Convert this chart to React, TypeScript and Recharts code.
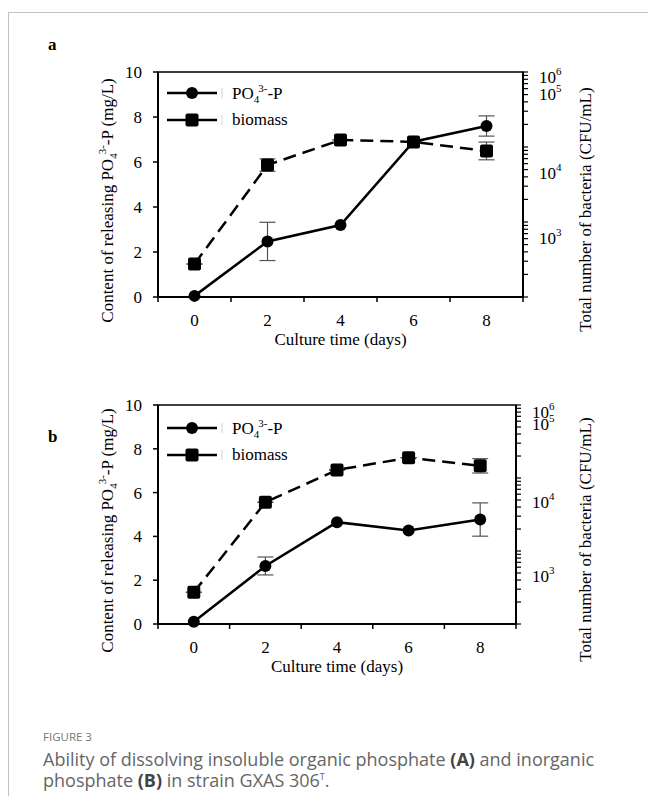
import React from 'react';
import { ComposedChart, Line, XAxis, YAxis, ErrorBar, Label, ReferenceArea } from 'recharts';

// ---------- data ----------
const days = [0, 2, 4, 6, 8];
const xTicks = [-1, 0, 1, 2, 3, 4, 5, 6, 7, 8, 9]; // odd = tick marks, even = labelled days
const leftTicks = [0, 2, 4, 6, 8, 10];
const rightMinorTicks = [
  100, 200, 300, 400, 500, 600, 700, 800, 900,
  1000, 2000, 3000, 4000, 5000, 6000, 7000, 8000, 9000,
  10000, 20000, 30000, 40000, 50000, 60000, 70000, 80000, 90000, 100000,
];
const rightLabelExponents = ['3', '4', '5', '6'];

// panel a (organic phosphate)
const poA = [0.05, 2.47, 3.2, 6.9, 7.6];
const poErrA = [0, 0.85, 0, 0, 0.45];
const bioA = [275, 5750, 12400, 11700, 8850];
const bioErrA = [[0, 0], [1000, 1200], [0, 0], [0, 0], [2100, 2800]];
const labelPosA = [606, 4460, 50900, 84500];

// panel b (inorganic phosphate)
const poB = [0.1, 2.65, 4.65, 4.27, 4.77];
const poErrB = [0, 0.41, 0, 0, 0.76];
const bioB = [272, 4650, 12900, 18970, 14700];
const bioErrB = [[0, 0], [0, 0], [0, 0], [0, 0], [3000, 3700]];
const labelPosB = [454, 4730, 55000, 79400];

const serif = '"Liberation Serif", "Times New Roman", Times, serif';
const sans = '"Open Sans", "Noto Sans", Arial, sans-serif';

const makeRows = (po: number[], poErr: number[], bio: number[], bioErr: number[][]) =>
  days.map((d, i) => ({ day: d, po: po[i], poErr: poErr[i], bio: bio[i], bioErr: bioErr[i] }));

const XTick = (props: any) => {
  const { x, y, payload } = props;
  const v = payload.value;
  if (Math.abs(v % 2) === 1) {
    return <line x1={x} x2={x} y1={y} y2={y + 5} stroke="#000" strokeWidth={1.5} />;
  }
  return (
    <text x={x} y={y + 29} textAnchor="middle" fontFamily={serif} fontSize={17} fill="#000">
      {v}
    </text>
  );
};

const makeRightTick = (labelPos: number[]) => (props: any) => {
  const { x, y, payload } = props;
  const idx = labelPos.indexOf(payload.value);
  if (idx >= 0) {
    return (
      <text x={x + 16} y={y + 6} fontFamily={serif} fontSize={17} fill="#000">
        10
        <tspan dy={-8} fontSize={11}>
          {rightLabelExponents[idx]}
        </tspan>
      </text>
    );
  }
  return <line x1={x} x2={x + 5} y1={y} y2={y} stroke="#000" strokeWidth={1.2} />;
};

const LeftTitle = (props: any) => {
  const vb = props.viewBox;
  const cx = vb.x + 9;
  const cy = vb.y + vb.height / 2 + 16;
  return (
    <text
      x={cx}
      y={cy}
      dy={6}
      transform={`rotate(-90, ${cx}, ${cy})`}
      textAnchor="middle"
      fontFamily={serif}
      fontSize={17}
      fill="#000"
    >
      Content of releasing PO
      <tspan dy={4} fontSize={11}>4</tspan>
      <tspan dy={-11} dx={-1} fontSize={11}>3-</tspan>
      <tspan dy={7}>-P (mg/L)</tspan>
    </text>
  );
};

const makeRightTitle = (dx: number) => (props: any) => {
  const vb = props.viewBox;
  const cx = vb.x + dx;
  const cy = vb.y + vb.height / 2 + 25;
  return (
    <text
      x={cx}
      y={cy}
      dy={6}
      transform={`rotate(-90, ${cx}, ${cy})`}
      textAnchor="middle"
      fontFamily={serif}
      fontSize={17}
      fill="#000"
    >
      Total number of bacteria (CFU/mL)
    </text>
  );
};

const XTitle = (props: any) => {
  const vb = props.viewBox;
  return (
    <text x={vb.x + vb.width / 2} y={vb.y + 48} textAnchor="middle" fontFamily={serif} fontSize={17} fill="#000">
      Culture time (days)
    </text>
  );
};

const SquareDot = (p: any) => {
  if (p.cx == null || p.cy == null) return null;
  return <rect key={`sq-${p.index}`} x={p.cx - 6.5} y={p.cy - 6.5} width={13} height={13} rx={2} fill="#000" />;
};

const LegendOverlay = ({ top }: { top: number }) => (
  <svg style={{ position: 'absolute', left: 0, top: 0 }} width={648} height={400}>
    <g transform={`translate(0, ${top})`}>
      <line x1={167} x2={217} y1={0} y2={0} stroke="#000" strokeWidth={2.5} />
      <circle cx={192} cy={0} r={6} fill="#000" />
      <line x1={222} x2={222} y1={-5} y2={5} stroke="#d0d0d0" strokeWidth={1} />
      <text x={232} y={6} fontFamily={serif} fontSize={17} fill="#000">
        PO<tspan dy={4} fontSize={11}>4</tspan>
        <tspan dy={-11} dx={-1} fontSize={11}>3-</tspan>
        <tspan dy={7}>-P</tspan>
      </text>
      <line x1={167} x2={217} y1={27} y2={27} stroke="#000" strokeWidth={2.5} />
      <rect x={185.5} y={20.5} width={13} height={13} rx={2} fill="#000" />
      <line x1={222} x2={222} y1={22} y2={32} stroke="#d0d0d0" strokeWidth={1} />
      <text x={232} y={32} fontFamily={serif} fontSize={17} fill="#000">
        biomass
      </text>
    </g>
  </svg>
);

type PanelProps = {
  top: number;
  height: number;
  margin: { top: number; right: number; bottom: number; left: number };
  rows: any[];
  labelPos: number[];
  letter: string;
  letterY: number;
  legendY: number;
  rightTitleDx: number;
};

const Panel = ({ top, height, margin, rows, labelPos, letter, letterY, legendY, rightTitleDx }: PanelProps) => (
  <div style={{ position: 'absolute', left: 0, top, width: 648, height }}>
    <ComposedChart width={648} height={height} data={rows} margin={margin}>
      <XAxis
        dataKey="day"
        type="number"
        domain={[-1, 9]}
        ticks={xTicks}
        interval={0}
        tickLine={false}
        tickSize={0}
        tickMargin={0}
        height={50}
        axisLine={{ stroke: '#000', strokeWidth: 2 }}
        tick={<XTick />}
      >
        <Label content={<XTitle />} />
      </XAxis>
      <YAxis
        yAxisId="l"
        type="number"
        domain={[0, 10]}
        ticks={leftTicks}
        interval={0}
        width={60}
        tickSize={5}
        tickMargin={11}
        axisLine={{ stroke: '#000', strokeWidth: 2 }}
        tickLine={{ stroke: '#000', strokeWidth: 1.5 }}
        tick={{ fill: '#000', fontSize: 17, fontFamily: serif }}
      >
        <Label content={<LeftTitle />} />
      </YAxis>
      <YAxis
        yAxisId="r"
        orientation="right"
        type="number"
        scale="log"
        domain={[100, 100000]}
        allowDataOverflow
        ticks={[...rightMinorTicks, ...labelPos]}
        interval={0}
        width={60}
        tickSize={0}
        tickMargin={0}
        tickLine={false}
        axisLine={{ stroke: '#000', strokeWidth: 2 }}
        tick={makeRightTick(labelPos)}
      >
        <Label content={makeRightTitle(rightTitleDx)} />
      </YAxis>
      <ReferenceArea
        yAxisId="l"
        x1={-1}
        x2={9}
        y1={0}
        y2={10}
        fill="none"
        stroke="#000"
        strokeWidth={1.5}
        ifOverflow="visible"
      />
      <Line
        yAxisId="r"
        dataKey="bio"
        type="linear"
        stroke="#000"
        strokeWidth={2.5}
        strokeDasharray="13 7"
        dot={SquareDot}
        activeDot={false}
        isAnimationActive={false}
      >
        <ErrorBar dataKey="bioErr" width={8} stroke="#555" strokeWidth={1.2} direction="y" />
      </Line>
      <Line
        yAxisId="l"
        dataKey="po"
        type="linear"
        stroke="#000"
        strokeWidth={2.5}
        dot={{ r: 6, fill: '#000', stroke: '#000', strokeWidth: 0 }}
        activeDot={false}
        isAnimationActive={false}
      >
        <ErrorBar dataKey="poErr" width={8} stroke="#555" strokeWidth={1.2} direction="y" />
      </Line>
    </ComposedChart>
    <LegendOverlay top={legendY} />
    <div
      style={{
        position: 'absolute',
        left: 48,
        top: letterY,
        fontFamily: serif,
        fontWeight: 'bold',
        fontSize: 17,
        lineHeight: '20px',
        color: '#000',
      }}
    >
      {letter}
    </div>
  </div>
);

export default function App() {
  const rowsA = makeRows(poA, poErrA, bioA, bioErrA);
  const rowsB = makeRows(poB, poErrB, bioB, bioErrB);
  return (
    <div
      style={{
        position: 'absolute',
        left: 0,
        top: 0,
        width: 648,
        height: 796,
        background: '#fff',
        overflow: 'hidden',
      }}
    >
      <div
        style={{
          position: 'absolute',
          left: 8,
          top: 12,
          width: 660,
          height: 800,
          borderLeft: '1.5px solid #c2c2c2',
          borderTop: '1.5px solid #c2c2c2',
        }}
      />
      <Panel
        top={40}
        height={330}
        margin={{ top: 32, right: 65, bottom: 23, left: 98 }}
        rows={rowsA}
        labelPos={labelPosA}
        letter="a"
        letterY={-5}
        legendY={53}
        rightTitleDx={62}
      />
      <Panel
        top={375}
        height={330}
        margin={{ top: 30, right: 72, bottom: 31, left: 98 }}
        rows={rowsB}
        labelPos={labelPosB}
        letter="b"
        letterY={52}
        legendY={53}
        rightTitleDx={69}
      />
      <div style={{ position: 'absolute', left: 43, top: 728, width: 600, fontFamily: sans, color: '#666' }}>
        <div style={{ fontSize: 11.5, lineHeight: '18px', color: '#777' }}>FIGURE 3</div>
        <div style={{ fontSize: 18, lineHeight: '21px', marginTop: 3 }}>
          Ability of dissolving insoluble organic phosphate <b style={{ color: '#444' }}>(A)</b> and inorganic
          <br />
          phosphate <b style={{ color: '#444' }}>(B)</b> in strain GXAS 306<sup style={{ fontSize: 9, lineHeight: 0 }}>T</sup>.
        </div>
      </div>
    </div>
  );
}
